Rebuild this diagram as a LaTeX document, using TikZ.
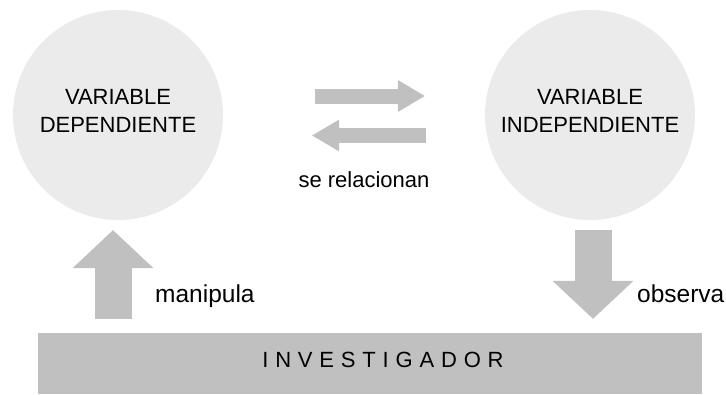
\documentclass[tikz,border=0pt]{standalone}
\usepackage{fontspec}
\setmainfont{Liberation Sans}
\usetikzlibrary{arrows.meta, calc}
\definecolor{circgray}{RGB}{235,235,235}
\definecolor{arrowgray}{RGB}{192,192,192}

\begin{document}
\begin{tikzpicture}[x=1pt, y=-1pt,
  varcirc/.style={circle, fill=circgray, minimum size=210pt, inner sep=0pt, align=center, text depth=8pt, font=\fontsize{22}{28}\selectfont},
  flatarrow/.style={draw=arrowgray, line width=15pt, -{Triangle[width=32pt 0 0, length=27pt 0 0, line width=0pt 0 0]}},
  bigarrow/.style={draw=arrowgray, line width=37pt, -{Triangle[width=81pt 0 0, length=38pt 0 0, line width=0pt 0 0]}},
  lbl/.style={font=\fontsize{22}{26}\selectfont, inner sep=0pt},
  sidelbl/.style={lbl, font=\fontsize{24.5}{28}\selectfont}
]
  \useasboundingbox (0,0) rectangle (726,394);

  % variables
  \node[varcirc] (dep) at (118,115) {VARIABLE\\DEPENDIENTE};
  \node[varcirc] (indep) at (590,115) {VARIABLE\\INDEPENDIENTE};

  % investigador
  \node[fill=arrowgray, minimum width=664pt, minimum height=61pt, inner sep=0pt, text depth=7pt,
    font=\fontsize{22}{26}\selectfont\addfontfeatures{LetterSpace=31}] (inv) at (370,363.5) {\hspace*{26pt}INVESTIGADOR};

  % se relacionan
  \draw[flatarrow] ($(dep.east)+(92,-19)$) -- ($(indep.west)+(-60,-19)$);
  \draw[flatarrow] ($(indep.west)+(-59,20.5)$) -- ($(dep.east)+(89,20.5)$);
  \node[lbl, anchor=base] (rel) at (364,187) {se relacionan};

  % manipula / observa
  \draw[bigarrow] ($(dep.south |- inv.north)+(-5,-14)$) -- ($(dep.south)+(-5,10)$);
  \node[sidelbl, anchor=base west] (man) at (155,302) {manipula};
  \draw[bigarrow] ($(indep.south)+(3,10)$) -- ($(indep.south |- inv.north)+(3,-14)$);
  \node[sidelbl, anchor=base west] (obs) at (637,302) {observa};
\end{tikzpicture}
\end{document}
